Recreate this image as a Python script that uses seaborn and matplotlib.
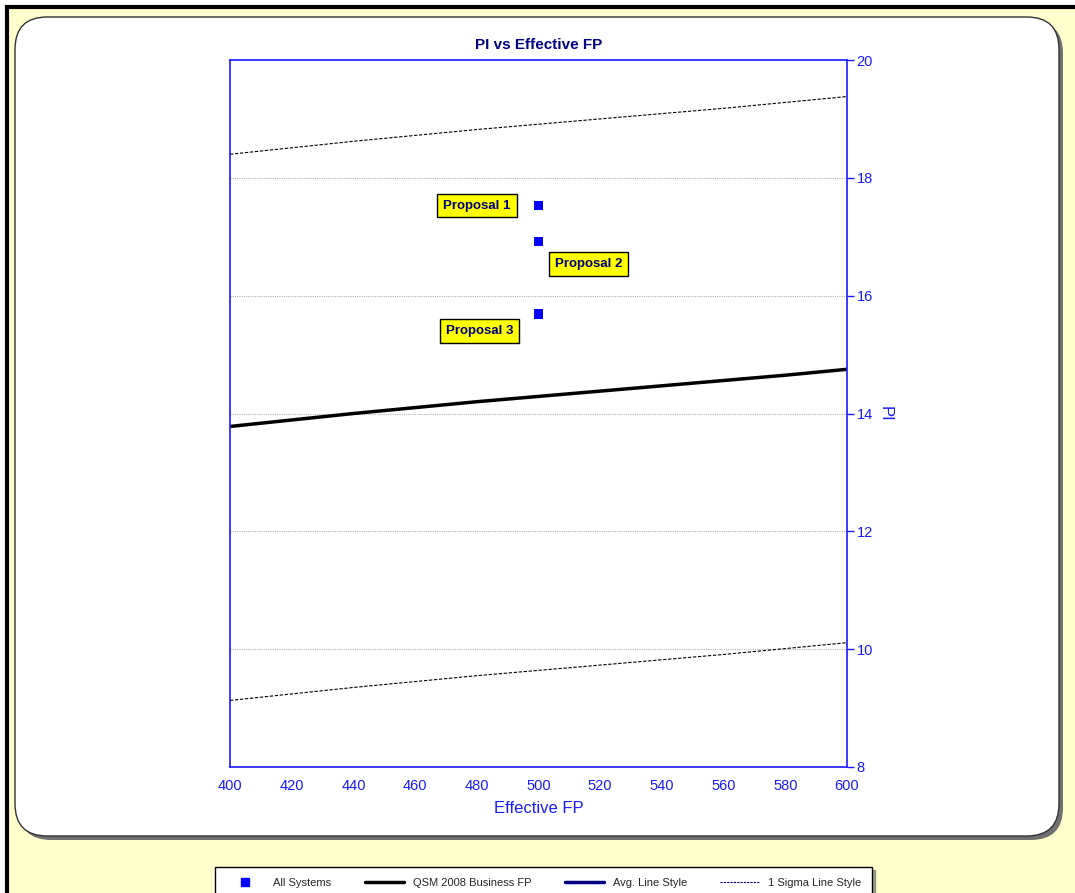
import matplotlib
matplotlib.use("Agg")
import matplotlib.pyplot as plt
from matplotlib.patches import FancyBboxPatch, Rectangle
from matplotlib.lines import Line2D
import seaborn as sns
import pandas as pd

# data
fp = [400, 420, 440, 460, 480, 500, 520, 540, 560, 580, 600]
pi_avg = [13.78, 13.89, 14.00, 14.10, 14.20, 14.29, 14.38, 14.47, 14.56, 14.65, 14.75]
pi_upper = [18.40, 18.51, 18.62, 18.72, 18.82, 18.91, 19.00, 19.09, 19.18, 19.28, 19.38]
pi_lower = [9.13, 9.24, 9.35, 9.45, 9.55, 9.64, 9.73, 9.82, 9.91, 10.01, 10.11]

proposals = ["Proposal 1", "Proposal 2", "Proposal 3"]
prop_fp = [500, 500, 500]
prop_pi = [17.53, 16.92, 15.69]

sns.set_style("white")
plt.rcParams['font.family'] = ['Liberation Sans', 'DejaVu Sans']

blue = "#1a1aff"
navy = "#000080"

fig = plt.figure(figsize=(10.75, 8.93), dpi=100)
W, H = 1075, 893

def fx(px):
    return px / W

def fy(py):
    return 1 - py / H

# background: yellow with black frame (only top/left visible)
fig.patches.append(Rectangle((fx(7), -0.1), 1.2, fy(7) + 0.1, transform=fig.transFigure,
                             facecolor="#ffffcc", edgecolor="black", linewidth=3, zorder=-10))
# shadow of the white panel
fig.patches.append(FancyBboxPatch((fx(19), fy(840)), fx(1044), fy(21) - fy(840),
                                  boxstyle="round,pad=0,rounding_size=0.03",
                                  transform=fig.transFigure, facecolor="#707070",
                                  edgecolor="none", zorder=-9, mutation_aspect=W / H))
fig.patches.append(FancyBboxPatch((fx(15), fy(836)), fx(1044), fy(17) - fy(836),
                                  boxstyle="round,pad=0,rounding_size=0.03",
                                  transform=fig.transFigure, facecolor="white",
                                  edgecolor="#333333", linewidth=1, zorder=-8,
                                  mutation_aspect=W / H))

ax = fig.add_axes([fx(230), fy(767), fx(847) - fx(230), fy(60) - fy(767)])
ax.set_facecolor("none")

df_line = pd.DataFrame({"fp": fp, "avg": pi_avg, "upper": pi_upper, "lower": pi_lower})
sns.lineplot(data=df_line, x="fp", y="avg", ax=ax, color="black", linewidth=2.5)
sns.lineplot(data=df_line, x="fp", y="upper", ax=ax, color="black", linewidth=0.8,
             linestyle=(0, (3, 1.5)))
sns.lineplot(data=df_line, x="fp", y="lower", ax=ax, color="black", linewidth=0.8,
             linestyle=(0, (3, 1.5)))

df_pts = pd.DataFrame({"fp": prop_fp, "pi": prop_pi, "name": proposals})
sns.scatterplot(data=df_pts, x="fp", y="pi", ax=ax, marker="s", s=45, color="#0000ff",
                edgecolor="none", zorder=5)

# label boxes
offsets = [(-20, 0), (12, -16.5), (-18, -12)]
aligns = ["right", "left", "right"]
for name, x, y, off, ha in zip(proposals, prop_fp, prop_pi, offsets, aligns):
    ax.annotate(name, (x, y), xytext=off, textcoords="offset points", ha=ha, va="center",
                fontsize=9.5, fontweight="bold", color=navy,
                bbox=dict(boxstyle="square,pad=0.45", facecolor="#ffff00", edgecolor="black",
                          linewidth=1))

ax.set_xlim(400, 600)
ax.set_ylim(8, 20)
ax.set_xticks(range(400, 601, 20))
ax.set_yticks(range(8, 21, 2))
ax.yaxis.tick_right()
ax.yaxis.set_label_position("right")
for y in range(10, 20, 2):
    ax.axhline(y, color="#b0b0b0", linewidth=0.8, linestyle=(0, (1, 1)), zorder=0)

for s in ax.spines.values():
    s.set_color(blue)
    s.set_linewidth(1.2)
ax.tick_params(axis="both", colors=blue, labelcolor=blue, labelsize=10.5,
               direction="out", length=5, width=1)
ax.tick_params(axis="y", left=False, right=True, pad=2)
for lab in ax.get_xticklabels() + ax.get_yticklabels():
    lab.set_fontfamily(['Liberation Sans Narrow', 'Liberation Sans', 'DejaVu Sans'])

ax.set_xlabel("Effective FP", color=blue, fontsize=12, labelpad=6)
ax.set_ylabel("PI", color=blue, fontsize=12, rotation=270, labelpad=14)
ax.set_title("PI vs Effective FP", color=navy, fontsize=11, fontweight="bold", pad=8)

handles = [
    Line2D([], [], marker="s", color="#0000ff", linestyle="none", markersize=6),
    Line2D([], [], color="black", linewidth=2.5),
    Line2D([], [], color=navy, linewidth=2.5),
    Line2D([], [], color=navy, linewidth=0.8, linestyle=(0, (2, 1))),
]
labels = ["All Systems", "QSM 2008 Business FP", "Avg. Line Style", "1 Sigma Line Style"]
leg = fig.legend(handles, labels, loc="upper left", ncol=4,
                 bbox_to_anchor=(fx(215), fy(867) - 0.02, fx(872) - fx(215), 0.02),
                 mode="expand", fontsize=8, frameon=True, fancybox=False, shadow=True,
                 edgecolor="black", handlelength=3.5, borderpad=0.95, borderaxespad=0)
leg.get_frame().set_linewidth(1)
for t in leg.get_texts():
    t.set_fontfamily(['Liberation Sans Narrow', 'Liberation Sans', 'DejaVu Sans'])

fig.savefig("out.png", dpi=100)
